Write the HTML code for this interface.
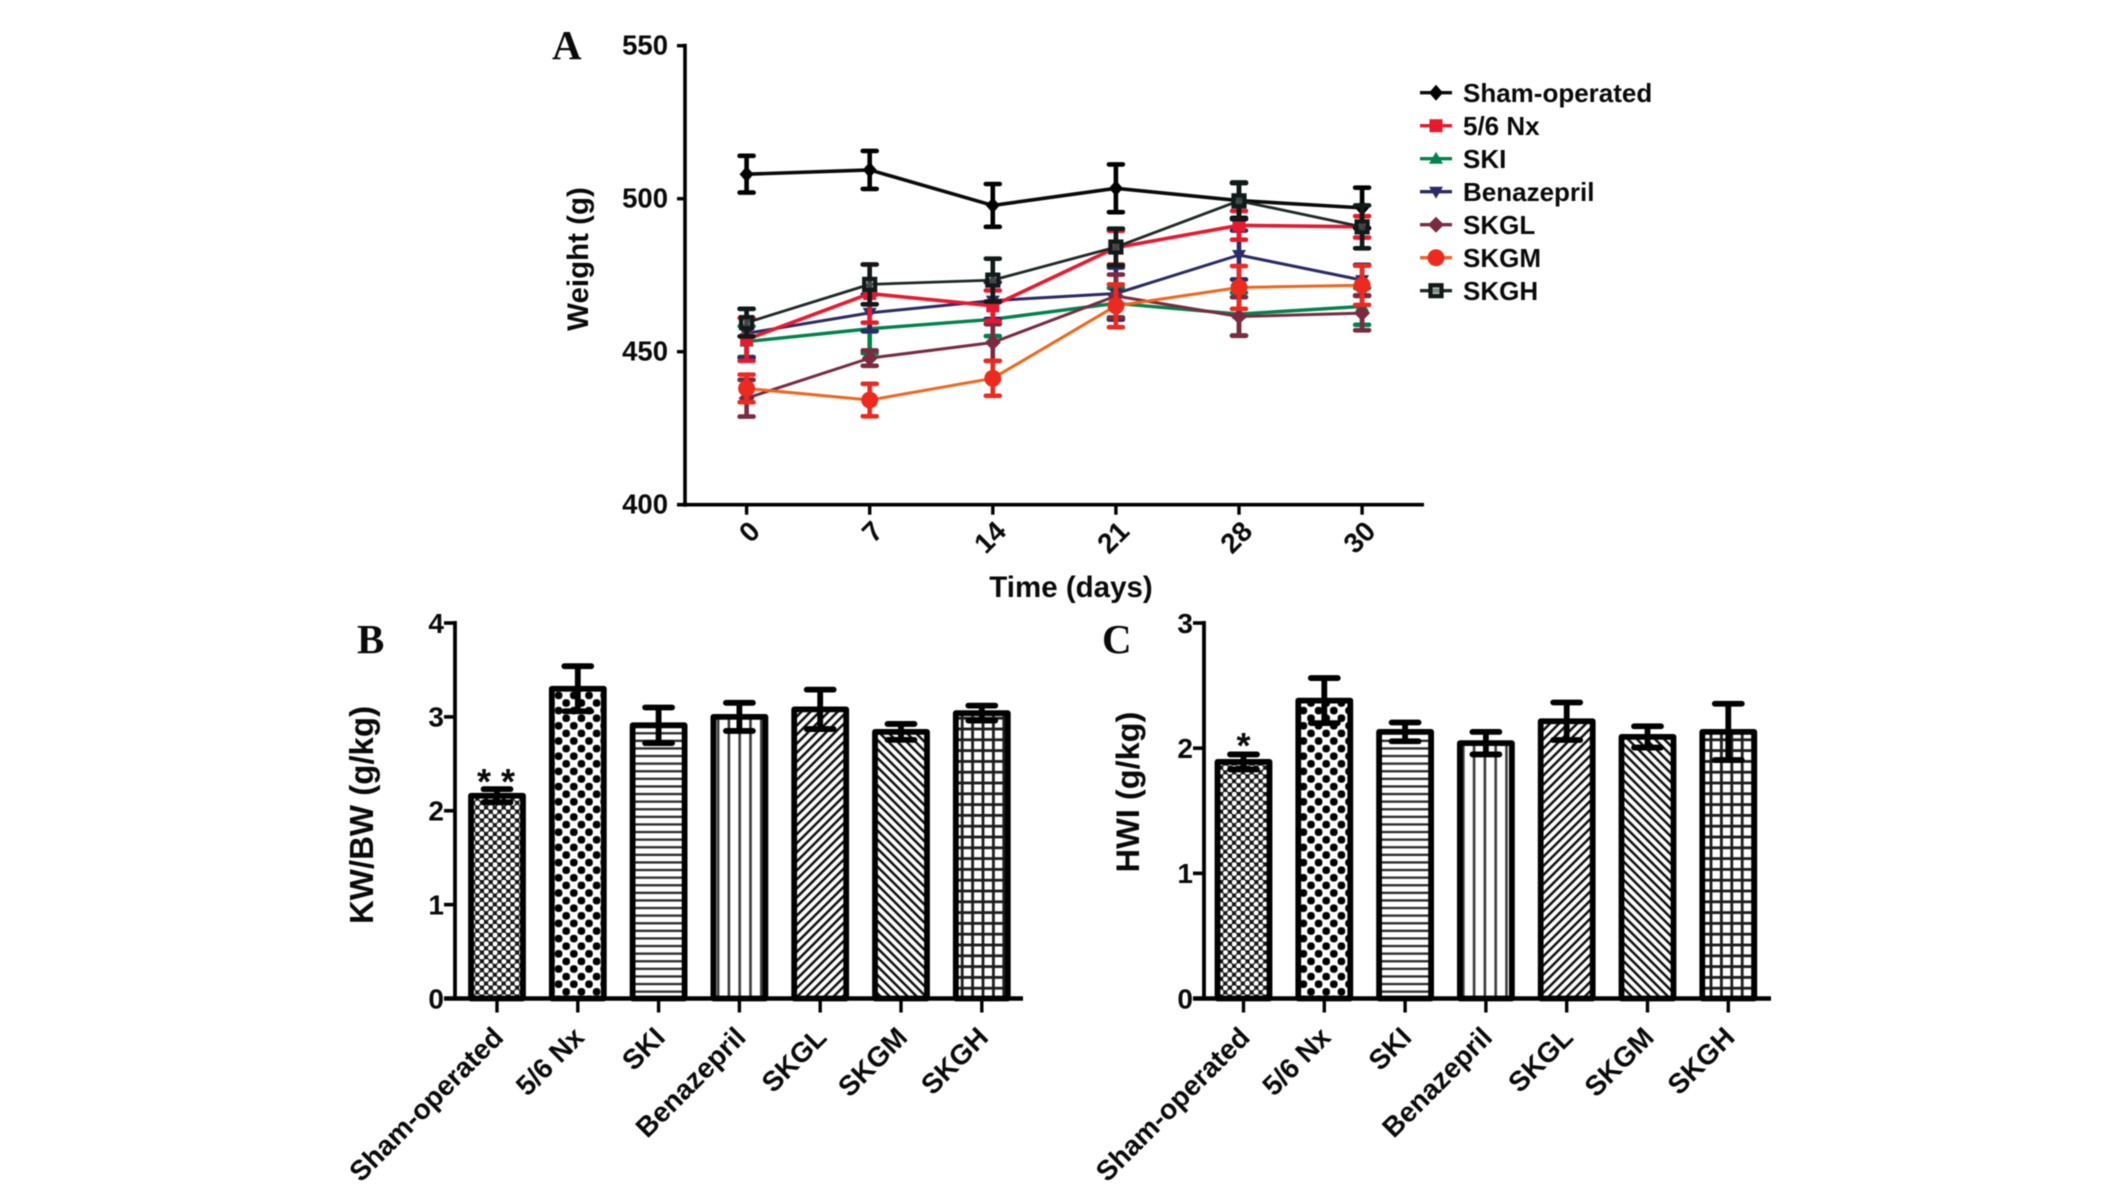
<!DOCTYPE html>
<html lang="en">
<head>
<meta charset="utf-8">
<title>Weight, KW/BW and HWI charts</title>
<style>
html,body{margin:0;padding:0;background:#fff;width:2126px;height:1184px;overflow:hidden}
svg{display:block;filter:blur(0.6px)}
text{font-family:"Liberation Sans",sans-serif;font-weight:bold;fill:#0a0a0a}
.letter{font-family:"Liberation Serif",serif;font-size:41px}
</style>
</head>
<body>
<svg id="fig" xmlns="http://www.w3.org/2000/svg" width="2126" height="1184" viewBox="0 0 2126 1184">
<defs>
<pattern id="p-dots" patternUnits="userSpaceOnUse" width="8.8" height="8.8">
<rect width="8.8" height="8.8" fill="#161616"/>
<circle cx="2.2" cy="2.2" r="2.6" fill="#fff"/>
<circle cx="6.6" cy="6.6" r="2.6" fill="#fff"/>
</pattern>
<pattern id="p-check" patternUnits="userSpaceOnUse" width="15.2" height="15.2">
<rect width="15.2" height="15.2" fill="#fff"/>
<rect x="0" y="0" width="7.6" height="7.6" rx="3.2" fill="#000"/>
<rect x="7.6" y="7.6" width="7.6" height="7.6" rx="3.2" fill="#000"/>
</pattern>
<pattern id="p-horiz" patternUnits="userSpaceOnUse" width="10" height="7.6">
<rect width="10" height="7.6" fill="#fff"/>
<rect y="2.5" width="10" height="2.3" fill="#2a2a2a"/>
</pattern>
<pattern id="p-vert" patternUnits="userSpaceOnUse" width="10.8" height="10">
<rect width="10.8" height="10" fill="#fff"/>
<rect x="4" width="2.6" height="10" fill="#3a3a3a"/>
</pattern>
<pattern id="p-fwd" patternUnits="userSpaceOnUse" width="6.4" height="8" patternTransform="rotate(45)">
<rect width="6.4" height="8" fill="#fff"/>
<rect width="2.5" height="8" fill="#111"/>
</pattern>
<pattern id="p-back" patternUnits="userSpaceOnUse" width="6.4" height="8" patternTransform="rotate(-45)">
<rect width="6.4" height="8" fill="#fff"/>
<rect width="2.5" height="8" fill="#111"/>
</pattern>
<pattern id="p-grid" patternUnits="userSpaceOnUse" width="10.4" height="10.8">
<rect width="10.4" height="10.8" fill="#fff"/>
<rect x="4" width="2.8" height="10.8" fill="#1c1c1c"/>
<rect y="4" width="10.4" height="2.8" fill="#1c1c1c"/>
</pattern>
</defs>

<text class="letter" x="552" y="59">A</text>
<text class="letter" x="357" y="653">B</text>
<text class="letter" x="1102" y="653">C</text>

<text x="0" y="0" font-size="29.5" text-anchor="middle" transform="translate(588 259) rotate(-90)">Weight (g)</text>
<text x="1071" y="597" font-size="29.5" text-anchor="middle">Time (days)</text>
<text x="0" y="0" font-size="33" text-anchor="middle" transform="translate(373 815) rotate(-90)">KW/BW (g/kg)</text>
<text x="0" y="0" font-size="32.5" text-anchor="middle" transform="translate(1139 792) rotate(-90)">HWI (g/kg)</text>

<g id="panel-a"></g>
<g id="legend"></g>
<g id="panel-b"></g>
<g id="panel-c"></g>
</svg>

<script>
// ---- Chart data ----
const dayLabels = ['0', '7', '14', '21', '28', '30'];
const weightTicks = [400, 450, 500, 550];
const groupNames = ['Sham-operated', '5/6 Nx', 'SKI', 'Benazepril', 'SKGL', 'SKGM', 'SKGH'];

const shamWeight = [508, 509.4, 497.8, 503.4, 499.4, 497];
const shamErr = [6, 6.2, 7, 7.8, 5.7, 6.6];
const nxWeight = [454, 469, 465, 484, 491.3, 490.8];
const nxErr = [7, 9.5, 5, 5.5, 4.7, 3.5];
const skiWeight = [453.3, 457.5, 460.6, 465.8, 462.3, 464.8];
const skiErr = [5, 8, 5.5, 5, 7, 6];
const benazeprilWeight = [456, 462.7, 466.7, 469, 481.6, 473.4];
const benazeprilErr = [8, 6, 6, 8.5, 8, 5];
const skglWeight = [434.8, 447.9, 453, 468.2, 461.5, 462.6];
const skglErr = [6, 2.5, 6, 7, 6.3, 5.6];
const skgmWeight = [438, 434.2, 441.3, 465, 471, 471.7];
const skgmErr = [4.5, 5.3, 5.7, 7, 7, 6.4];
const skghWeight = [459.5, 472, 473.4, 484.2, 499.3, 490.8];
const skghErr = [4.5, 6.5, 7, 6, 6, 7];

const kwTicks = [0, 1, 2, 3, 4];
const kwValues = [2.16, 3.3, 2.91, 3.0, 3.08, 2.84, 3.04];
const kwErrs = [0.07, 0.24, 0.19, 0.15, 0.21, 0.085, 0.08];
const hwiTicks = [0, 1, 2, 3];
const hwiValues = [1.89, 2.38, 2.13, 2.04, 2.215, 2.09, 2.13];
const hwiErrs = [0.06, 0.18, 0.075, 0.09, 0.15, 0.085, 0.225];

// ---- Helpers ----
const NS = 'http://www.w3.org/2000/svg';
function make(parent, tag, attrs) {
  const el = document.createElementNS(NS, tag);
  for (const k in attrs) el.setAttribute(k, attrs[k]);
  parent.appendChild(el);
  return el;
}

// ---- Panel A axes ----
const panelA = document.getElementById('panel-a');
const yA = v => 504.7 - (v - 400) * 3.06;
const xA = i => 746.6 + i * 123.1;

const aAxisY = make(panelA, 'line', {x1: 685, x2: 685, y1: yA(550) - 2, y2: yA(400) + 2, stroke: '#000', 'stroke-width': 3.6});


const aAxisX = make(panelA, 'line', {x1: 677, x2: 1424, y1: yA(400), y2: yA(400), stroke: '#000', 'stroke-width': 3.6});



weightTicks.forEach(t => {
  const tick = make(panelA, 'line', {x1: 677, x2: 685, y1: yA(t), y2: yA(t), stroke: '#000', 'stroke-width': 3.4});
  
  
  const lab = make(panelA, 'text', {x: 668, y: yA(t) - 1, dy: '.35em', 'text-anchor': 'end', 'font-size': 27.5});
  
  
  lab.textContent = t;
});
dayLabels.forEach((d, i) => {
  const tick = make(panelA, 'line', {x1: xA(i), x2: xA(i), y1: yA(400), y2: yA(400) + 10, stroke: '#000', 'stroke-width': 3.4});
  
  
  const lab = make(panelA, 'text', {x: 0, y: 0, 'text-anchor': 'end', 'font-size': 28, transform: `translate(${xA(i) + 15} 533) rotate(-45)`});
  
  
  lab.textContent = d;
});

// ---- Markers ----
function marker(parent, kind, cx, cy, color, fillInner) {
  let m;
  if (kind === 'circle') m = make(parent, 'polygon', {points: `${cx},${cy - 8} ${cx + 7},${cy} ${cx},${cy + 8} ${cx - 7},${cy}`, fill: color});
  if (kind === 'bigcircle') m = make(parent, 'circle', {cx: cx, cy: cy, r: 8.5, fill: color});
  if (kind === 'square') m = make(parent, 'rect', {x: cx - 6.5, y: cy - 6.5, width: 13, height: 13, fill: color});
  if (kind === 'tri') m = make(parent, 'polygon', {points: `${cx},${cy - 7} ${cx + 7},${cy + 5} ${cx - 7},${cy + 5}`, fill: color});
  if (kind === 'invtri') m = make(parent, 'polygon', {points: `${cx},${cy + 7} ${cx + 7},${cy - 5} ${cx - 7},${cy - 5}`, fill: color});
  if (kind === 'diamond') m = make(parent, 'polygon', {points: `${cx},${cy - 8} ${cx + 8},${cy} ${cx},${cy + 8} ${cx - 8},${cy}`, fill: color});
  if (kind === 'hollow') m = make(parent, 'rect', {x: cx - 5.5, y: cy - 5.5, width: 11, height: 11, fill: fillInner, stroke: color, 'stroke-width': 4.2});
  return m;
}

const seriesWeights = [shamWeight, nxWeight, skiWeight, benazeprilWeight, skglWeight, skgmWeight, skghWeight];
const seriesErrs = [shamErr, nxErr, skiErr, benazeprilErr, skglErr, skgmErr, skghErr];
const lineColors = ['#0a0a0a', '#e8192f', '#00834a', '#2b2a68', '#7b2a40', '#f0661c', '#1c2a28'];
const markColors = ['#000000', '#e8192f', '#00834a', '#2b2a68', '#7b2a40', '#ec2a20', '#101a18'];
const errColors = ['#000000', '#e8192f', '#00834a', '#2b2a68', '#7b2a40', '#ec2a20', '#101a18'];
const markerKinds = ['circle', 'square', 'tri', 'invtri', 'diamond', 'bigcircle', 'hollow'];
const lineWidths = [3.6, 3.6, 3.4, 3, 3, 3, 2.8];

const drawOrder = [2, 3, 4, 1, 0, 6, 5];
drawOrder.forEach(s => {
  const g = make(panelA, 'g', {});
  
  
  seriesWeights[s].forEach((v, i) => {
    const e = seriesErrs[s][i];
    const eb = make(g, 'path', {
      d: `M${xA(i)} ${yA(v + e)}V${yA(v - e)}M${xA(i) - 7} ${yA(v + e)}H${xA(i) + 7}M${xA(i) - 7} ${yA(v - e)}H${xA(i) + 7}`,
      stroke: errColors[s], 'stroke-width': 4.6, fill: 'none', 'stroke-linecap': 'round'
    });
    
    
  });
  const line = make(g, 'polyline', {
    points: seriesWeights[s].map((v, i) => xA(i) + ',' + yA(v)).join(' '),
    fill: 'none', stroke: lineColors[s], 'stroke-width': lineWidths[s], 'stroke-linejoin': 'round'
  });
  
  
  seriesWeights[s].forEach((v, i) => {
    const m = marker(g, markerKinds[s], xA(i), yA(v), markColors[s], 'rgba(110,120,115,.45)');
    
    
  });
});

// ---- Legend ----
const legend = document.getElementById('legend');
const legendY = i => 92.7 + i * 33;
const legendTextDrop = 9.5;
groupNames.forEach((n, i) => {
  const row = make(legend, 'g', {});
  
  
  const l = make(row, 'line', {x1: 1420, x2: 1452, y1: legendY(i), y2: legendY(i), stroke: lineColors[i], 'stroke-width': 3.4});
  
  
  const m = marker(row, markerKinds[i], 1436, legendY(i), markColors[i], 'rgba(150,160,155,.8)');
  
  
  const t = make(row, 'text', {x: 1463, y: legendY(i) + legendTextDrop, 'font-size': 26});
  
  
  t.textContent = n;
});

// ---- Bar panels ----
const patterns = ['p-dots', 'p-check', 'p-horiz', 'p-vert', 'p-fwd', 'p-back', 'p-grid'];
function barPanel(id, key, x0, x1Axis, xFirst, ticks, maxVal, values, errs) {
  const p = document.getElementById(id);
  const yBase = 998.5, yTop = 623;
  const y = v => yBase - v * (yBase - yTop) / maxVal;
  const x = i => xFirst + i * 80.8;

  values.forEach((v, i) => {
    const b = make(p, 'rect', {x: x(i) - 26, y: y(v), width: 52, height: y(0) - y(v), fill: `url(#${patterns[i]})`, stroke: '#000', 'stroke-width': 5.8, 'stroke-linejoin': 'round'});
    
    
    const e = errs[i];
    const eb = make(p, 'path', {
      d: `M${x(i)} ${y(v + e)}V${y(v - e)}M${x(i) - 13.5} ${y(v + e)}H${x(i) + 13.5}M${x(i) - 13.5} ${y(v - e)}H${x(i) + 13.5}`,
      stroke: '#000', 'stroke-width': 5.8, fill: 'none', 'stroke-linecap': 'round'
    });
    
    
  });

  const ax = make(p, 'line', {x1: x0, x2: x0, y1: yTop - 2, y2: yBase + 2, stroke: '#000', 'stroke-width': 3.8});
  
  
  const bx = make(p, 'line', {x1: x0 - 11, x2: x1Axis, y1: yBase, y2: yBase, stroke: '#000', 'stroke-width': 4.6});
  
  

  ticks.forEach(t => {
    const tk = make(p, 'line', {x1: x0 - 11, x2: x0, y1: y(t), y2: y(t), stroke: '#000', 'stroke-width': 3.6});
    
    
    const lab = make(p, 'text', {x: x0 - 11, y: y(t), dy: '.35em', 'text-anchor': 'end', 'font-size': 28});
    
    
    lab.textContent = t;
  });
  groupNames.forEach((n, i) => {
    const tk = make(p, 'line', {x1: x(i), x2: x(i), y1: yBase, y2: yBase + 14, stroke: '#000', 'stroke-width': 3.4});
    
    
    const lab = make(p, 'text', {x: 0, y: 0, 'text-anchor': 'end', 'font-size': 28, transform: `translate(${x(i) + 8} 1039) rotate(-45)`});
    
    
    lab.textContent = n;
  });
  return {p, x, y};
}

const b = barPanel('panel-b', 'kw-bw', 455, 1023, 497, kwTicks, 4, kwValues, kwErrs);
const c = barPanel('panel-c', 'hwi', 1204, 1771, 1243.5, hwiTicks, 3, hwiValues, hwiErrs);

const starsB = make(b.p, 'text', {x: b.x(0) - 1, y: 794, 'text-anchor': 'middle', 'font-size': 36});


starsB.textContent = '* *';
const starC = make(c.p, 'text', {x: c.x(0), y: 758, 'text-anchor': 'middle', 'font-size': 36});


starC.textContent = '*';
</script>
</body>
</html>
